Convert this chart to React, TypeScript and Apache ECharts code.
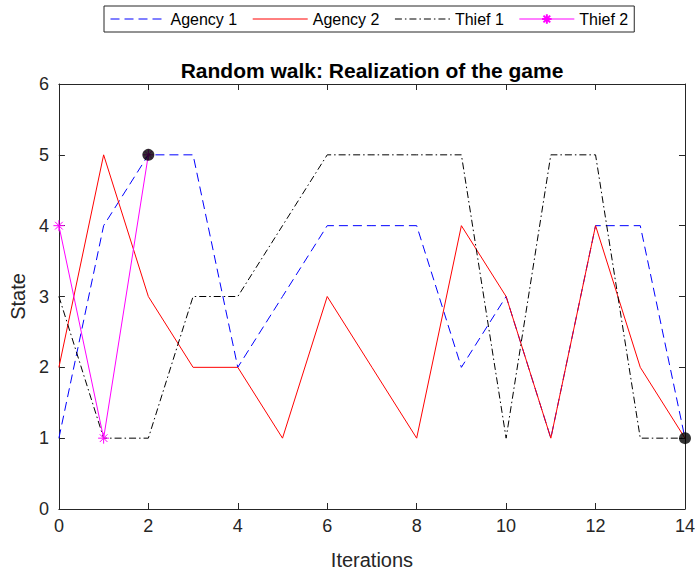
import React, { useEffect, useRef } from "react";
import * as echarts from "echarts";

const iterations = [0, 1, 2, 3, 4, 5, 6, 7, 8, 9, 10, 11, 12, 13, 14];
const agency1 = [1, 4, 5, 5, 2, 3, 4, 4, 4, 2, 3, 1, 4, 4, 1];
const agency2 = [2, 5, 3, 2, 2, 1, 3, 2, 1, 4, 3, 1, 4, 2, 1];
const thief1 = [3, 1, 1, 3, 3, 4, 5, 5, 5, 5, 1, 5, 5, 1, 1];
const thief2 = [4, 1, 5];
const captures: [number, number][] = [
  [2, 5],
  [14, 1],
];

const FONT = "'Liberation Sans', Arial, Helvetica, sans-serif";
const AXIS_COLOR = "#262626";
const ASTERISK = "path://M0,-10L0,10M-10,0L10,0M-7,-7L7,7M-7,7L7,-7";

const pair = (ys: number[]) => ys.map((y, i) => [iterations[i], y]);

export default function App() {
  const ref = useRef<HTMLDivElement>(null);
  useEffect(() => {
    if (!ref.current) return;
    const chart = echarts.init(ref.current, null, { renderer: "svg" });
    const axisCommon = {
      type: "value" as const,
      axisLine: { show: true, onZero: false, lineStyle: { color: AXIS_COLOR, width: 1 } },
      axisTick: { show: true, inside: true, length: 6, lineStyle: { color: AXIS_COLOR } },
      splitLine: { show: false },
    };
    const hideSym = { opacity: 0 };
    chart.setOption({
      animation: false,
      backgroundColor: "#ffffff",
      textStyle: { fontFamily: FONT },
      grid: { left: 58, top: 84, right: 12, bottom: 63 },
      legend: {
        top: 6,
        left: 104,
        data: [
          { name: "Agency 1", itemStyle: hideSym },
          { name: "Agency 2", itemStyle: hideSym },
          { name: "Thief 1", itemStyle: hideSym },
          { name: "Thief 2" },
        ],
        itemWidth: 55,
        itemHeight: 12,
        itemGap: 15,
        padding: [5, 6],
        borderColor: AXIS_COLOR,
        borderWidth: 1,
        lineStyle: { width: 1 },
        textStyle: { fontSize: 16, color: "#000", fontFamily: FONT },
      },
      graphic: [
        {
          type: "text",
          x: 372,
          y: 70,
          style: {
            text: "Random walk: Realization of the game",
            textAlign: "center",
            textVerticalAlign: "middle",
            font: `bold 21px ${FONT}`,
            fill: "#000",
          },
        },
      ],
      xAxis: [
        {
          ...axisCommon,
          position: "bottom",
          min: 0,
          max: 14,
          interval: 2,
          name: "Iterations",
          nameLocation: "middle",
          nameGap: 41,
          nameTextStyle: { fontSize: 20, color: AXIS_COLOR, fontFamily: FONT },
          axisLabel: { fontSize: 18, color: AXIS_COLOR, margin: 8, fontFamily: FONT },
        },
        {
          ...axisCommon,
          position: "top",
          min: 0,
          max: 14,
          interval: 2,
          axisLabel: { show: false },
        },
      ],
      yAxis: [
        {
          ...axisCommon,
          position: "left",
          min: 0,
          max: 6,
          interval: 1,
          name: "State",
          nameLocation: "middle",
          nameGap: 28,
          nameTextStyle: { fontSize: 20, color: AXIS_COLOR, fontFamily: FONT },
          axisLabel: { fontSize: 18, color: AXIS_COLOR, margin: 10, fontFamily: FONT },
        },
        {
          ...axisCommon,
          position: "right",
          min: 0,
          max: 6,
          interval: 1,
          axisLabel: { show: false },
        },
      ],
      series: [
        {
          name: "Agency 1",
          type: "line",
          data: pair(agency1),
          symbol: "none",
          itemStyle: { color: "#0000ff" },
          lineStyle: { color: "#0000ff", width: 1, type: [9, 5] },
        },
        {
          name: "Agency 2",
          type: "line",
          data: pair(agency2),
          symbol: "none",
          itemStyle: { color: "#ff0000" },
          lineStyle: { color: "#ff0000", width: 1 },
        },
        {
          name: "Thief 1",
          type: "line",
          data: pair(thief1),
          symbol: "none",
          itemStyle: { color: "#000000" },
          lineStyle: { color: "#000000", width: 1, type: [7, 3, 1.5, 3] },
        },
        {
          name: "Thief 2",
          type: "line",
          data: pair(thief2),
          symbol: ASTERISK,
          symbolSize: 11,
          itemStyle: { color: "#ff00ff", borderColor: "#ff00ff", borderWidth: 1 },
          lineStyle: { color: "#ff00ff", width: 1 },
        },
        {
          name: "Capture",
          type: "scatter",
          data: captures,
          symbol: "circle",
          symbolSize: 12,
          itemStyle: { color: "#000000" },
          z: 5,
        },
      ],
    });
    return () => chart.dispose();
  }, []);
  return (
    <div
      ref={ref}
      style={{ position: "fixed", left: 0, top: 0, width: 698, height: 575, background: "#fff" }}
    />
  );
}
